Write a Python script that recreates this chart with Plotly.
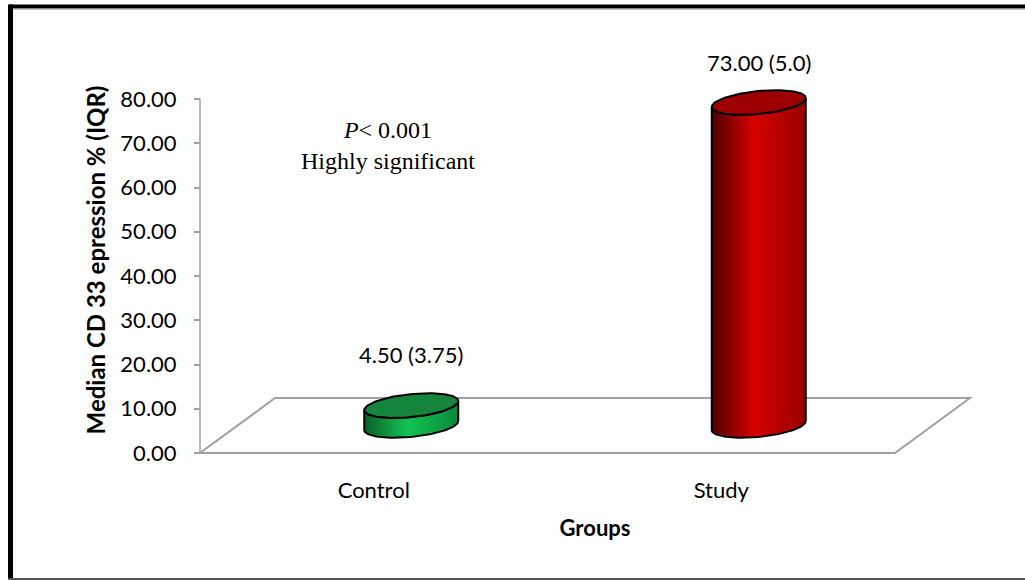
import numpy as np
import plotly.graph_objects as go

# ---- data ----
groups = ["Control", "Study"]
medians = [4.50, 73.00]
iqr = ["3.75", "5.0"]
y_ticks = [0, 10, 20, 30, 40, 50, 60, 70, 80]

# ---- styling ----
body_scales = [
    [[0, "#0a5c25"], [0.45, "#13c253"], [1, "#0b8a3a"]],
    [[0, "#4e0000"], [0.45, "#d60000"], [1, "#980000"]],
]
top_fills = ["#15843c", "#9c0000"]
label_lift_px = [51, 40]          # value label offset above each cylinder top
axis_grey = "#a0a0a0"
sans = "Lato"
serif = "Liberation Serif"

# ---- page geometry ----
W, H = 1025, 580
M_L, M_R, M_T, M_B = 190, 25, 50, 110
plot_w = W - M_L - M_R
plot_h = H - M_T - M_B
px_per_cat = 347.5                # pixels per category slot on the front plane
px_per_val = 4.425                # pixels per value unit
axis_inset = 10                   # value axis sits this far inside the plot area
zero_px = 453                     # page row of value 0 on the front plane

x_lo = -axis_inset / px_per_cat
x_hi = (plot_w - axis_inset) / px_per_cat
y_lo = -(M_T + plot_h - zero_px) / px_per_val
y_hi = (zero_px - M_T) / px_per_val

# depth of the floor (oblique projection), in axis units
depth_dx = 75 / px_per_cat
depth_dy = 55 / px_per_val

# cylinder cross-section
rad_x = 47 / px_per_cat
rad_y = 11.5 / px_per_val
tilt = (9 / 94) * (px_per_cat / px_per_val)

n = len(groups)


def ellipse(cx, cy, t):
    ex = cx + rad_x * np.cos(t)
    ey = cy + rad_y * np.sin(t) + tilt * rad_x * np.cos(t)
    return ex, ey


def paper_x(px):
    return (px - M_L) / plot_w


def paper_y(py):
    return (M_T + plot_h - py) / plot_h


fig = go.Figure()

for i, (g, v) in enumerate(zip(groups, medians)):
    cx = i + 0.5 + depth_dx / 2
    base = depth_dy / 2
    top = base + v
    front = np.linspace(np.pi, 2 * np.pi, 60)
    tx, ty = ellipse(cx, top, front)
    bx, by = ellipse(cx, base, front[::-1])
    body_x = np.concatenate([tx, bx, tx[:1]])
    body_y = np.concatenate([ty, by, ty[:1]])
    fig.add_trace(go.Scatter(
        x=body_x, y=body_y, mode="lines", fill="toself",
        fillgradient=dict(type="horizontal", colorscale=body_scales[i]),
        line=dict(color="black", width=2),
        hoverinfo="skip", showlegend=False,
    ))
    full = np.linspace(0, 2 * np.pi, 120)
    ex, ey = ellipse(cx, top, full)
    fig.add_trace(go.Scatter(
        x=ex, y=ey, mode="lines", fill="toself", fillcolor=top_fills[i],
        line=dict(color="black", width=2),
        hoverinfo="skip", showlegend=False,
    ))
    fig.add_annotation(
        x=cx, y=top, yshift=label_lift_px[i], xref="x", yref="y",
        text=f"{v:.2f} ({iqr[i]})", showarrow=False,
        font=dict(family=sans, size=22, color="black"),
        xanchor="center", yanchor="middle",
    )

# floor of the 3-D plot area
floor_path = (
    f"M 0,0 L {n},0 L {n + depth_dx},{depth_dy} L {depth_dx},{depth_dy} Z"
)
fig.add_shape(type="path", path=floor_path, xref="x", yref="y",
              line=dict(color=axis_grey, width=2), fillcolor="white",
              layer="below")
# value axis line
fig.add_shape(type="line", x0=0, x1=0, y0=0, y1=y_ticks[-1], xref="x",
              yref="y", line=dict(color=axis_grey, width=1.5), layer="below")

# significance note
fig.add_annotation(
    x=paper_x(388), y=paper_y(145), xref="paper", yref="paper",
    xanchor="center", yanchor="middle",
    text="<i>P</i>&lt; 0.001<br>Highly significant", showarrow=False,
    font=dict(family=serif, size=24, color="black"), align="center",
)

# outer frame
fig.add_shape(type="line", xref="paper", yref="paper",
              x0=paper_x(9), x1=paper_x(W + 5), y0=paper_y(6.5), y1=paper_y(6.5),
              line=dict(color="black", width=4))
fig.add_shape(type="line", xref="paper", yref="paper",
              x0=paper_x(9), x1=paper_x(W + 5), y0=paper_y(9), y1=paper_y(9),
              line=dict(color="#8a8a8a", width=1))
fig.add_shape(type="line", xref="paper", yref="paper",
              x0=paper_x(10.5), x1=paper_x(10.5), y0=paper_y(4.5), y1=paper_y(H + 5),
              line=dict(color="black", width=5))
fig.add_shape(type="line", xref="paper", yref="paper",
              x0=paper_x(8), x1=paper_x(W + 5), y0=paper_y(579), y1=paper_y(579),
              line=dict(color="#555555", width=2))

fig.update_layout(
    width=W, height=H,
    margin=dict(l=M_L, r=M_R, t=M_T, b=M_B, autoexpand=False),
    paper_bgcolor="white", plot_bgcolor="rgba(0,0,0,0)",
    font=dict(family=sans, color="black"),
    xaxis=dict(
        range=[x_lo, x_hi], tickvals=[i + 0.5 for i in range(n)],
        ticktext=groups, showgrid=False, zeroline=False, showline=False,
        ticks="", tickfont=dict(family=sans, size=22),
        ticklabelstandoff=5,
        title=dict(text="<b>Groups</b>", font=dict(family=sans, size=22),
                   standoff=18),
        fixedrange=True,
    ),
    yaxis=dict(
        range=[y_lo, y_hi], tickvals=y_ticks, tickformat=".2f",
        anchor="free", position=axis_inset / plot_w,
        showgrid=False, zeroline=False, showline=False,
        ticks="outside", ticklen=6, tickcolor=axis_grey, tickwidth=1.5,
        tickfont=dict(family=sans, size=22), ticklabelstandoff=13,
        title=dict(text="<b>Median CD 33 epression % (IQR)</b>",
                   font=dict(family=sans, size=24), standoff=6),
        fixedrange=True,
    ),
)

fig.write_html("out.html")
